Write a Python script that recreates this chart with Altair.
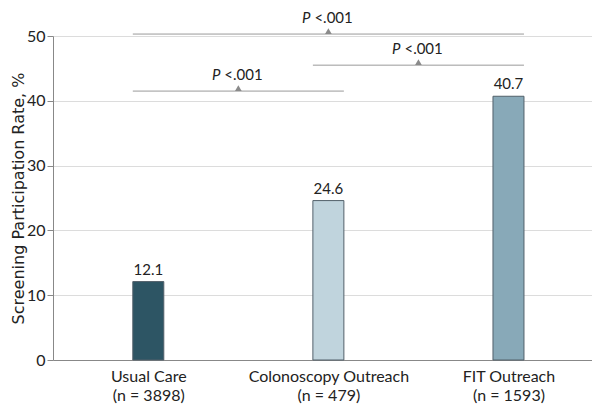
import json
import altair as alt
import pandas as pd

# ---- data ----
groups = ["Usual Care", "Colonoscopy Outreach", "FIT Outreach"]
group_n = [3898, 479, 1593]
rates = [12.1, 24.6, 40.7]
bar_colors = ["#2d5564", "#c0d4dd", "#88a9b8"]

cmp_from = [0, 1, 0]
cmp_to = [1, 2, 2]
cmp_level = [41.5, 45.5, 50.3]
cmp_p = ["<.001", "<.001", "<.001"]

y_ticks = [0, 10, 20, 30, 40, 50]

bars_df = pd.DataFrame({"idx": list(range(len(groups))), "group": groups, "rate": rates})
cmp_df = pd.DataFrame({"i_from": cmp_from, "i_to": cmp_to, "level": cmp_level, "p": cmp_p})

label_lines = [[g, f"(n = {n})"] for g, n in zip(groups, group_n)]
label_expr = json.dumps(label_lines) + "[datum.value]"

FONT = "Lato"
TXT = "#222222"

xscale = alt.Scale(domain=[-0.5014, 2.436], nice=False, zero=False)
yscale = alt.Scale(domain=[0, 50], nice=False)

x_axis = alt.Axis(
    values=[0, 1, 2], labelExpr=label_expr, title=None, grid=False, ticks=False,
    domainColor="#888888", labelFont=FONT, labelFontSize=16, labelColor=TXT,
    labelPadding=8, labelLineHeight=19, labelFlush=False, labelOverlap=False,
)
y_axis = alt.Axis(
    values=y_ticks, title="Screening Participation Rate, %", grid=True,
    gridColor="#dcdcdc", domainColor="#888888", tickColor="#888888", tickSize=6,
    labelFont=FONT, labelFontSize=16, labelColor=TXT, labelPadding=2,
    titleFont="DejaVu Sans", titleFontSize=16, titleFontWeight="normal",
    titleColor=TXT, titleX=-30, titleY=162, titleAngle=270,
    titleAlign="center", titleBaseline="alphabetic",
)


def X(field):
    return alt.X(field, type="quantitative", scale=xscale, axis=x_axis)


def Y(field):
    return alt.Y(field, type="quantitative", scale=yscale, axis=y_axis)


bars = alt.Chart(bars_df).mark_bar(size=31, stroke="#52606a", strokeWidth=1).encode(
    x=X("idx"), y=Y("rate"),
    color=alt.Color("group:N", scale=alt.Scale(domain=groups, range=bar_colors), legend=None),
)

values = alt.Chart(bars_df).mark_text(
    dy=-7, baseline="alphabetic", align="center", font=FONT, fontSize=15, color=TXT
).encode(x=X("idx"), y=Y("rate"), text=alt.Text("rate:Q", format=".1f"))

rules = alt.Chart(cmp_df).mark_rule(
    color="#9a9a9a", strokeWidth=1, xOffset=-15.5, x2Offset=15.5
).encode(x=X("i_from"), x2="i_to:Q", y=Y("level"))

mid = alt.Chart(cmp_df).transform_calculate(mid="(datum.i_from + datum.i_to) / 2")

tri = mid.mark_point(
    shape="triangle-up", size=45, filled=True, color="#8a8a8a", opacity=1, yOffset=-3
).encode(x=X("mid"), y=Y("level"))

p_italic = mid.mark_text(
    text="P", fontStyle="italic", align="right", dx=-18, dy=-11,
    baseline="alphabetic", font=FONT, fontSize=15, color=TXT,
).encode(x=X("mid"), y=Y("level"))

p_value = mid.mark_text(
    align="left", dx=-14, dy=-11, baseline="alphabetic", font=FONT, fontSize=15, color=TXT
).encode(x=X("mid"), y=Y("level"), text="p:N")

chart = alt.layer(bars, values, rules, tri, p_italic, p_value).properties(
    width=539, height=324,
    autosize=alt.AutoSizeParams(type="none"),
    padding={"left": 45, "top": 28, "right": 0, "bottom": 46},
).configure_view(stroke=None)

chart.save("out.html", embed_options={"renderer": "svg", "actions": False})
